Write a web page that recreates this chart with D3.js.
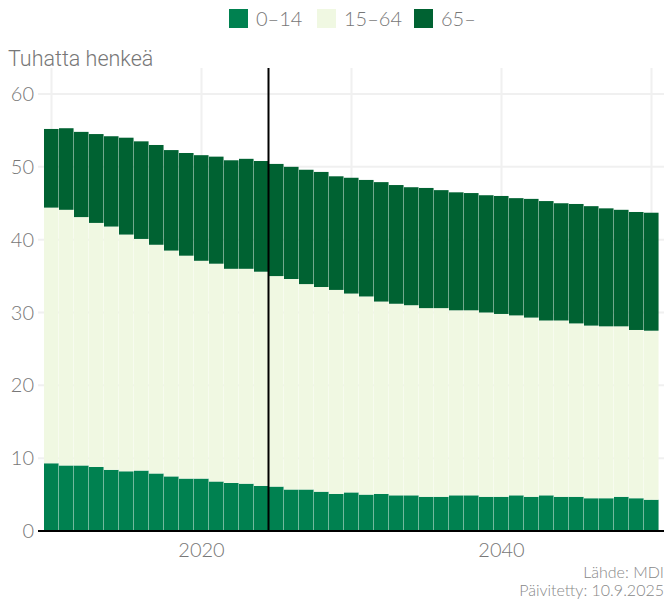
<!DOCTYPE html>
<html>
<head>
<meta charset="utf-8">
<script src="https://cdn.jsdelivr.net/npm/d3@7"></script>
<style>
  body { margin: 0; background: #fff; }
  text { font-family: Lato, "Open Sans", sans-serif; font-weight: 300; }
</style>
</head>
<body>
<div id="chart"></div>
<script>
// Years and age groups (thousands of people)
var years = d3.range(2010, 2051);
var age0_14 = [9.3, 9.0, 9.0, 8.8, 8.4, 8.2, 8.3, 7.9, 7.5, 7.2, 7.2, 6.8, 6.6, 6.5, 6.2, 6.1, 5.7, 5.7, 5.4, 5.1,
  5.3, 5.0, 5.1, 4.9, 4.9, 4.7, 4.7, 4.9, 4.9, 4.7, 4.7, 4.9, 4.7, 4.9, 4.7, 4.7, 4.5, 4.5, 4.7, 4.5, 4.3];
var age15_64 = [35.1, 35.1, 34.1, 33.5, 33.4, 32.5, 31.8, 31.4, 31.0, 30.6, 29.9, 29.9, 29.4, 29.5, 29.4, 28.9, 28.9, 28.2, 28.1, 28.0,
  27.3, 27.2, 26.4, 26.3, 26.1, 25.9, 25.9, 25.4, 25.4, 25.3, 25.1, 24.7, 24.6, 24.0, 24.2, 23.8, 23.7, 23.6, 23.4, 23.1, 23.2];
var age65 = [10.8, 11.2, 11.7, 12.2, 12.4, 13.3, 13.4, 13.7, 13.8, 14.1, 14.5, 14.7, 14.9, 15.1, 15.2, 15.4, 15.4, 15.7, 15.8, 15.6,
  15.9, 16.0, 16.4, 16.3, 16.2, 16.5, 16.2, 16.2, 16.1, 16.1, 16.2, 16.1, 16.3, 16.4, 16.1, 16.4, 16.4, 16.2, 16.0, 16.2, 16.2];
var seriesNames = ["0–14", "15–64", "65–"];
var colors = ["#008150", "#f0f8e2", "#006232"];
var yTicks = [0, 10, 20, 30, 40, 50, 60];
var xTicks = [2020, 2040];
var xGrid = [2010, 2020, 2030, 2040, 2050];
var forecastStart = 2025;

var width = 664, height = 601;
var textColor = "#777";

var svg = d3.select("#chart").append("svg")
  .attr("width", width)
  .attr("height", height);

var table = years.map(function (yr, i) {
  return { year: yr, a: age0_14[i], b: age15_64[i], c: age65[i] };
});
var stack = d3.stack().keys(["a", "b", "c"]);
var series = stack(table);

var x = d3.scaleBand().domain(years).range([44, 659]).padding(0);
var y = d3.scaleLinear().domain([0, 60]).range([531, 94]);
var plotTop = 68;

// horizontal grid
svg.append("g").selectAll("line").data(yTicks.slice(1)).enter().append("line")
  .attr("x1", 38).attr("x2", width)
  .attr("y1", function (d) { return y(d); })
  .attr("y2", function (d) { return y(d); })
  .attr("stroke", "#f0f0f0").attr("stroke-width", 2);

// vertical grid
svg.append("g").selectAll("line").data(xGrid).enter().append("line")
  .attr("x1", function (d) { return x(d) + x.bandwidth() / 2; })
  .attr("x2", function (d) { return x(d) + x.bandwidth() / 2; })
  .attr("y1", plotTop).attr("y2", 531)
  .attr("stroke", "#f0f0f0").attr("stroke-width", 2);

// bars
svg.append("g").selectAll("g").data(series).enter().append("g")
  .attr("fill", function (d, i) { return colors[i]; })
  .selectAll("rect").data(function (d) { return d; }).enter().append("rect")
  .attr("x", function (d) { return x(d.data.year); })
  .attr("width", x.bandwidth() - 0.45)
  .attr("y", function (d) { return y(d[1]); })
  .attr("height", function (d) { return y(d[0]) - y(d[1]); });

// y tick labels
svg.append("g").selectAll("text").data(yTicks).enter().append("text")
  .attr("x", 34)
  .attr("y", function (d) { return y(d); })
  .attr("dy", "0.35em")
  .attr("text-anchor", "end")
  .attr("fill", textColor)
  .style("font-size", "20px")
  .text(function (d) { return d; });

// x axis line
svg.append("line")
  .attr("x1", 38).attr("x2", width)
  .attr("y1", 531).attr("y2", 531)
  .attr("stroke", "#000").attr("stroke-width", 2);

// x tick labels
svg.append("g").selectAll("text").data(xTicks).enter().append("text")
  .attr("x", function (d) { return x(d) + x.bandwidth() / 2; })
  .attr("y", 557)
  .attr("text-anchor", "middle")
  .attr("fill", textColor)
  .style("font-size", "20px")
  .text(function (d) { return d; });

// forecast divider
svg.append("line")
  .attr("x1", x(forecastStart) - 0.5).attr("x2", x(forecastStart) - 0.5)
  .attr("y1", plotTop).attr("y2", 531)
  .attr("stroke", "#000").attr("stroke-width", 2);

// y axis title
svg.append("text")
  .attr("x", 8).attr("y", 66)
  .attr("fill", textColor)
  .style("font-family", "Roboto, sans-serif")
  .style("font-size", "21.5px")
  .text("Tuhatta henkeä");

// legend
var legendX = [229, 317, 414];
var legend = svg.append("g").selectAll("g").data(seriesNames).enter().append("g")
  .attr("transform", function (d, i) { return "translate(" + legendX[i] + ",9)"; });
legend.append("rect")
  .attr("width", 19).attr("height", 19)
  .attr("fill", function (d, i) { return colors[i]; });
legend.append("text")
  .attr("x", 27).attr("y", 10)
  .attr("dy", "0.35em")
  .attr("fill", textColor)
  .style("font-size", "20px")
  .text(function (d) { return d; });

// source
svg.append("text")
  .attr("x", 664).attr("y", 578)
  .attr("text-anchor", "end")
  .attr("fill", "#888")
  .style("font-size", "16px")
  .text("Lähde: MDI");
svg.append("text")
  .attr("x", 664).attr("y", 596)
  .attr("text-anchor", "end")
  .attr("fill", "#888")
  .style("font-size", "16px")
  .text("Päivitetty: 10.9.2025");
</script>
</body>
</html>
